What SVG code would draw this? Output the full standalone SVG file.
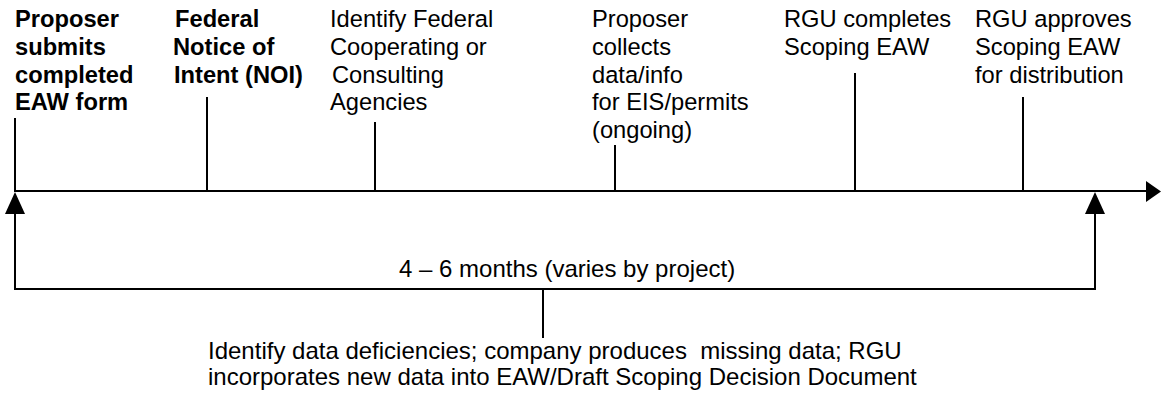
<svg xmlns="http://www.w3.org/2000/svg" width="1167" height="396" viewBox="0 0 1167 396">
<style>
text{font-family:"Liberation Sans",Arial,sans-serif;font-size:23.7px;fill:#000}
.b{font-weight:bold}
.s{font-size:24px}
.ln{stroke:#000;stroke-width:2;fill:none}
</style>
<rect width="1167" height="396" fill="#fff"/>
<g id="connectors">
<line class="ln" x1="14" y1="191" x2="1146" y2="191"/>
<path d="M1146,181 L1161,191.5 L1146,202 Z" fill="#000"/>
<polyline class="ln" points="15,213 15,289 1095,289 1095,213"/>
<path d="M5,214 L15,192 L25,214 Z" fill="#000"/>
<path d="M1085,214 L1095,192 L1105,214 Z" fill="#000"/>
<line class="ln" x1="543" y1="289" x2="543" y2="338"/>
</g>
<g id="n1">
<text class="b" x="15" y="27">Proposer</text>
<text class="b" x="15" y="55">submits</text>
<text class="b" x="15" y="83">completed</text>
<text class="b" x="15" y="110">EAW form</text>
<line class="ln" x1="15" y1="118" x2="15" y2="192"/>
</g>
<g id="n2">
<text class="b" x="175" y="27">Federal</text>
<text class="b" x="173" y="55">Notice of</text>
<text class="b" x="174" y="83">Intent (NOI)</text>
<line class="ln" x1="207" y1="97" x2="207" y2="191"/>
</g>
<g id="n3">
<text x="330" y="27">Identify Federal</text>
<text x="330" y="55">Cooperating or</text>
<text x="332" y="83">Consulting</text>
<text x="330" y="110">Agencies</text>
<line class="ln" x1="375" y1="122" x2="375" y2="191"/>
</g>
<g id="n4">
<text x="592" y="27">Proposer</text>
<text x="592" y="55">collects</text>
<text x="592" y="83">data/info</text>
<text x="592" y="110">for EIS/permits</text>
<text x="592" y="138">(ongoing)</text>
<line class="ln" x1="615" y1="145" x2="615" y2="191"/>
</g>
<g id="n5">
<text x="784" y="27">RGU completes</text>
<text x="784" y="55">Scoping EAW</text>
<line class="ln" x1="855" y1="73" x2="855" y2="191"/>
</g>
<g id="n6">
<text x="975" y="27">RGU approves</text>
<text x="975" y="55">Scoping EAW</text>
<text x="975" y="83">for distribution</text>
<line class="ln" x1="1023" y1="97" x2="1023" y2="191"/>
</g>
<g id="span">
<text class="s" x="399" y="277">4 – 6 months (varies by project)</text>
</g>
<g id="note">
<text class="s" x="208" y="359" xml:space="preserve">Identify data deficiencies; company produces  missing data; RGU</text>
<text class="s" x="208" y="385">incorporates new data into EAW/Draft Scoping Decision Document</text>
</g>
</svg>
